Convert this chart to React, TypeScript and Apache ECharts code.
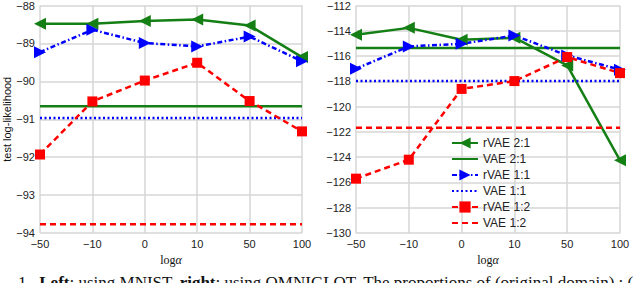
import React, { useEffect, useRef } from "react";
import * as echarts from "echarts";

const categories = ["-50", "-10", "0", "10", "50", "100"];

// Left panel (MNIST)
const leftRVAE21 = [-88.48, -88.48, -88.41, -88.37, -88.53, -89.36];
const leftVAE21 = [-90.66, -90.66, -90.66, -90.66, -90.66, -90.66];
const leftRVAE11 = [-89.23, -88.64, -88.99, -89.08, -88.82, -89.47];
const leftVAE11 = [-90.97, -90.97, -90.97, -90.97, -90.97, -90.97];
const leftRVAE12 = [-91.93, -90.53, -89.98, -89.51, -90.52, -91.32];
const leftVAE12 = [-93.77, -93.77, -93.77, -93.77, -93.77, -93.77];

// Right panel (OMNIGLOT)
const rightRVAE21 = [-114.32, -113.77, -114.71, -114.55, -116.74, -124.25];
const rightVAE21 = [-115.37, -115.37, -115.37, -115.37, -115.37, -115.37];
const rightRVAE11 = [-117.0, -115.24, -115.03, -114.37, -115.95, -117.08];
const rightVAE11 = [-117.98, -117.98, -117.98, -117.98, -117.98, -117.98];
const rightRVAE12 = [-125.7, -124.2, -118.6, -117.98, -116.08, -117.35];
const rightVAE12 = [-121.67, -121.67, -121.67, -121.67, -121.67, -121.67];

const seriesNames = ["rVAE 2:1", "VAE 2:1", "rVAE 1:1", "VAE 1:1", "rVAE 1:2", "VAE 1:2"];

const GREEN = "#147f14";
const BLUE = "#0000ff";
const RED = "#ff0000";
const GRID = "#d6d6d6";

const minus = (v: any) => String(v).replace("-", "\u2212");

export default function App() {
  const ref = useRef<HTMLDivElement>(null);
  useEffect(() => {
    if (!ref.current) return;
    const chart = echarts.init(ref.current, undefined, { renderer: "svg" });

    const styles = [
      { color: GREEN, type: "solid" as any, symbol: "triangle", rot: 90, size: 12 },
      { color: GREEN, type: "solid" as any, symbol: "none", rot: 0, size: 0 },
      { color: BLUE, type: [5, 2.5, 1.5, 2.5], symbol: "triangle", rot: -90, size: 12 },
      { color: BLUE, type: [2, 2.5], symbol: "none", rot: 0, size: 0 },
      { color: RED, type: [6, 4], symbol: "rect", rot: 0, size: 10 },
      { color: RED, type: [6, 4], symbol: "none", rot: 0, size: 0 },
    ];
    const leftData = [leftRVAE21, leftVAE21, leftRVAE11, leftVAE11, leftRVAE12, leftVAE12];
    const rightData = [rightRVAE21, rightVAE21, rightRVAE11, rightVAE11, rightRVAE12, rightVAE12];

    const mk = (data: number[], i: number, axis: number) => {
      const s = styles[i];
      const noSym = s.symbol === "none";
      return {
        name: seriesNames[i],
        type: "line",
        xAxisIndex: axis,
        yAxisIndex: axis,
        data,
        symbol: s.symbol,
        symbolSize: s.size,
        symbolRotate: s.rot,
        showSymbol: !noSym,
        itemStyle: { color: s.color, opacity: noSym ? 0 : 1 },
        lineStyle: { color: s.color, width: 2.5, type: s.type },
        z: 3,
      };
    };

    const xAxisBase = (gridIndex: number) => ({
      type: "category",
      gridIndex,
      data: categories,
      boundaryGap: false,
      axisLine: { show: false },
      axisTick: { show: false },
      splitLine: { show: true, lineStyle: { color: GRID, width: 1.5 } },
      axisLabel: {
        margin: 5,
        color: "#222",
        fontSize: 11,
        fontFamily: "Liberation Sans, Arial",
        formatter: minus,
        showMinLabel: true,
        showMaxLabel: true,
        interval: 0,
      },
      name: "log{a|α}",
      nameLocation: "middle",
      nameGap: 17,
      nameTextStyle: {
        fontFamily: "Liberation Serif, DejaVu Serif, serif",
        fontSize: 12,
        color: "#111",
        rich: {
          a: { fontFamily: "Liberation Serif, DejaVu Serif, serif", fontStyle: "italic", fontSize: 12, color: "#111" },
        },
      },
    });

    const yAxisBase = (gridIndex: number, min: number, max: number, interval: number, name: string) => ({
      type: "value",
      gridIndex,
      min,
      max,
      interval,
      axisLine: { show: false },
      axisTick: { show: false },
      splitLine: { show: true, lineStyle: { color: GRID, width: 1.5 } },
      axisLabel: {
        margin: 5,
        color: "#222",
        fontSize: 11,
        fontFamily: "Liberation Sans, Arial",
        formatter: minus,
      },
      name,
      nameLocation: "middle",
      nameGap: 28,
      nameRotate: 90,
      nameTextStyle: { fontFamily: "Liberation Sans, Arial", fontSize: 11, color: "#111" },
    });

    chart.setOption({
      animation: false,
      backgroundColor: "#ffffff",
      grid: [
        { left: 39, top: 5, width: 263, height: 228, show: false },
        { left: 356, top: 5, width: 264, height: 228, show: false },
      ],
      xAxis: [xAxisBase(0), xAxisBase(1)],
      yAxis: [
        yAxisBase(0, -94, -88, 1, "test log-likelihood"),
        yAxisBase(1, -130, -112, 2, ""),
      ],
      legend: {
        data: seriesNames.map((n, i) =>
          styles[i].symbol === "none" ? { name: n, itemStyle: { opacity: 0 } } : { name: n }
        ),
        orient: "vertical",
        left: 446,
        top: 131,
        itemWidth: 26,
        itemHeight: 14,
        itemGap: 2,
        textStyle: { fontSize: 12, color: "#222", fontFamily: "Liberation Sans, Arial", lineHeight: 14 },
        backgroundColor: "transparent",
      },
      series: [
        ...leftData.map((d, i) => mk(d, i, 0)),
        ...rightData.map((d, i) => mk(d, i, 1)),
      ],
      graphic: [
        {
          type: "text",
          left: 18,
          top: 274,
          style: {
            text: "1.  {b|Left}: using MNIST, {b|right}: using OMNIGLOT. The proportions of (original domain) : (",
            fontFamily: "Liberation Serif, DejaVu Serif, serif",
            fontSize: 17,
            fill: "#111",
            rich: {
              b: { fontWeight: "bold", fontFamily: "Liberation Serif, DejaVu Serif, serif", fontSize: 17, fill: "#111" },
            },
          },
        },
      ],
    });
    return () => chart.dispose();
  }, []);
  return (
    <div
      ref={ref}
      style={{ position: "fixed", left: 0, top: 0, width: 640, height: 283, overflow: "hidden" }}
    />
  );
}
